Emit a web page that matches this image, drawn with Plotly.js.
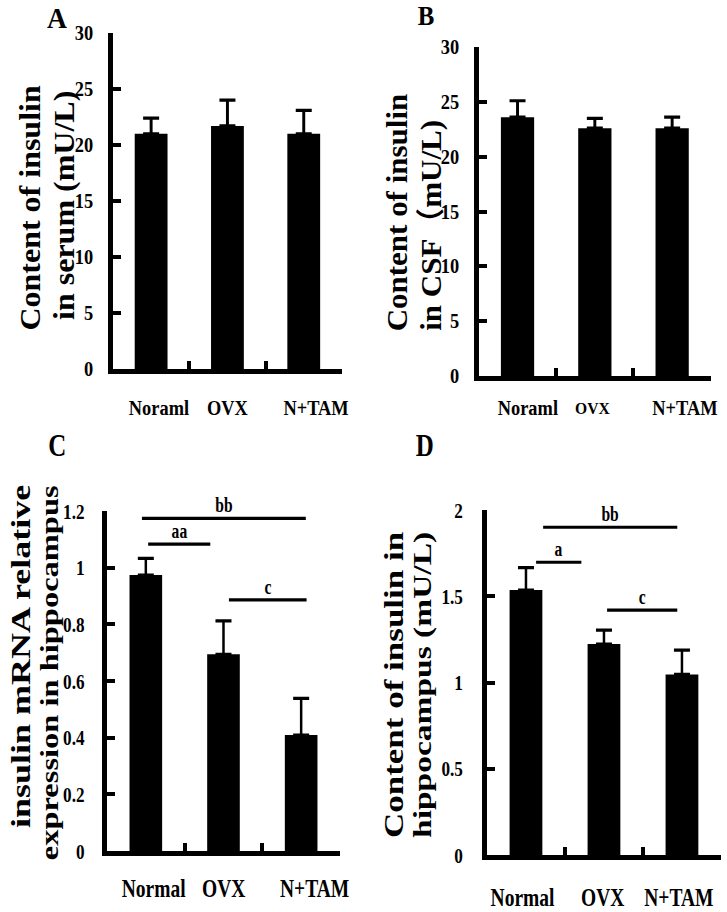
<!DOCTYPE html>
<html>
<head>
<meta charset="utf-8">
<script src="https://cdn.plot.ly/plotly-3.0.1.min.js"></script>
<style>
  html, body { margin: 0; padding: 0; background: #ffffff; width: 727px; height: 912px; overflow: hidden; position: relative; }
  #top, #bottom { position: absolute; left: 0; transform-origin: 0 0; }
  #top { top: 0; }
  #bottom { top: 420px; }
</style>
</head>
<body>
<div id="top"></div>
<div id="bottom"></div>
<script>
// ---------------- data ----------------
const categoriesTop = ['Noraml', 'OVX', 'N+TAM'];
const categoriesBottom = ['Normal', 'OVX', 'N+TAM'];

const serumInsulin = [21.0, 21.7, 21.0];
const serumErr = [1.4, 2.3, 2.1];

const csfInsulin = [23.6, 22.6, 22.6];
const csfErr = [1.5, 0.9, 1.0];

const mrnaExpr = [0.974, 0.694, 0.409];
const mrnaErr = [0.059, 0.118, 0.130];

const hippoInsulin = [1.536, 1.223, 1.047];
const hippoErr = [0.130, 0.081, 0.141];

const yTicksSerum = [0, 5, 10, 15, 20, 25, 30];
const yTicksCsf = [0, 5, 10, 15, 20, 25, 30];
const yTicksMrna = [0, 0.2, 0.4, 0.6, 0.8, 1, 1.2];
const yTickTextMrna = ['0', '0.2', '0.4', '0.6', '0.8', '1', '1.2'];
const yTicksHippo = [0, 0.5, 1, 1.5, 2];
const yTickTextHippo = ['0', '0.5', '1', '1.5', '2'];

// significance brackets (category index units)
const sigCLabels = ['bb', 'aa', 'c'];
const sigCFrom = [-0.05, 0.03, 1.07];
const sigCTo = [2.06, 0.83, 2.07];
const sigCLevel = [1.174, 1.083, 0.886];

const sigDLabels = ['bb', 'a', 'c'];
const sigDFrom = [0.22, 0.13, 1.04];
const sigDTo = [1.94, 0.71, 1.94];
const sigDLevel = [1.90, 1.697, 1.42];

// ---------------- helpers ----------------
const FONT = '"Liberation Serif", "Times New Roman", "Noto Sans CJK SC", serif';
const sTop = 0.92, sBot = 0.78;
const W = 727;

function bar(x, y, err, s, xa, ya) {
  return {
    type: 'bar', x: x, y: y, xaxis: xa, yaxis: ya,
    marker: { color: '#000000', line: { width: 0 } },
    error_y: { type: 'data', array: err, symmetric: false, arrayminus: err.map(() => 0),
               color: '#000000', thickness: 3.2, width: 8 / s },
    hoverinfo: 'skip', showlegend: false
  };
}

function xAxis(domain, anchor, s, lw) {
  return {
    domain: domain, anchor: anchor, type: 'category', range: [-0.5, 2.5],
    showline: true, linecolor: '#000', linewidth: lw,
    ticks: 'inside', tickson: 'boundaries', ticklen: 8, tickwidth: 4 / s, tickcolor: '#000',
    showticklabels: false, showgrid: false, zeroline: false, fixedrange: true
  };
}

function yAxis(domain, anchor, range, tickvals, ticktext, s, fsize, standoff) {
  return {
    domain: domain, anchor: anchor, range: range,
    tickmode: 'array', tickvals: tickvals, ticktext: ticktext,
    showline: true, linecolor: '#000', linewidth: 5 / s,
    ticks: 'inside', ticklen: 8 / s, tickwidth: 4, tickcolor: '#000',
    tickfont: { family: FONT, size: fsize, color: '#000', weight: 'bold' },
    ticklabelstandoff: standoff,
    showgrid: false, zeroline: false, fixedrange: true
  };
}

function txt(text, x, y, size, opts) {
  return Object.assign({
    text: text, x: x, y: y, xref: 'paper', yref: 'paper', showarrow: false,
    xanchor: 'center', yanchor: 'middle',
    font: { family: FONT, size: size, color: '#000', weight: 'bold' }
  }, opts || {});
}

function catLabels(cats, xref, offsets, y, sizes) {
  return cats.map((c, i) => ({
    text: c, x: i + offsets[i], y: y, xref: xref, yref: 'paper', showarrow: false,
    xanchor: 'center', yanchor: 'middle',
    font: { family: FONT, size: sizes[i], color: '#000', weight: 'bold' }
  }));
}

function sigShapes(from, to, level, xref, yref) {
  return from.map((f, i) => ({
    type: 'line', xref: xref, yref: yref, x0: f, x1: to[i], y0: level[i], y1: level[i],
    line: { color: '#000', width: 3.2 }
  }));
}

function sigTexts(labels, from, to, level, xref, yref, size) {
  return labels.map((l, i) => ({
    text: l, x: (from[i] + to[i]) / 2, y: level[i], xref: xref, yref: yref,
    showarrow: false, xanchor: 'center', yanchor: 'bottom', yshift: 0,
    font: { family: FONT, size: size, color: '#000', weight: 'bold' }
  }));
}

// ---------------- top row (A, B) ----------------
const Ht = 420;
const topTraces = [
  bar(categoriesTop, serumInsulin, serumErr, sTop, 'x', 'y'),
  bar(categoriesTop, csfInsulin, csfErr, sTop, 'x2', 'y2')
];
const topLayout = {
  width: W / sTop, height: Ht,
  margin: { l: 0, r: 0, t: 0, b: 0 },
  paper_bgcolor: 'rgba(0,0,0,0)', plot_bgcolor: 'rgba(0,0,0,0)',
  bargap: 0.57,
  xaxis: xAxis([113 / W, 342 / W], 'y', sTop, 4.5),
  yaxis: yAxis([(Ht - 369) / Ht, (Ht - 33) / Ht], 'x', [0, 30], yTicksSerum, yTicksSerum.map(String), sTop, 20, 12),
  xaxis2: xAxis([479 / W, 711 / W], 'y2', sTop, 4.5),
  yaxis2: yAxis([(Ht - 376) / Ht, (Ht - 47) / Ht], 'x2', [0, 30], yTicksCsf, yTicksCsf.map(String), sTop, 20, 12),
  annotations: [
    txt('A', 57 / W, (Ht - 18) / Ht, 30),
    txt('B', 426 / W, (Ht - 16) / Ht, 27),
    txt('Content of insulin', 30 / W, (Ht - 333) / Ht, 32, { textangle: -90, yanchor: 'bottom' }),
    txt('in serum (mU/L)', 63 / W, (Ht - 322) / Ht, 32, { textangle: -90, yanchor: 'bottom' }),
    txt('Content of insulin', 397 / W, (Ht - 333) / Ht, 31, { textangle: -90, yanchor: 'bottom' }),
    txt('in CSF（mU/L)', 431 / W, (Ht - 333) / Ht, 31, { textangle: -90, yanchor: 'bottom' })
  ].concat(
    catLabels(categoriesTop, 'x', [0.1, 0, 0.16], (Ht - 408) / Ht, [20, 20, 20]),
    catLabels(categoriesTop, 'x2', [0.14, -0.03, 0.17], (Ht - 408) / Ht, [20, 17, 20])
  )
};

// ---------------- bottom row (C, D) ----------------
const Hb = 492, off = 420;
const botTraces = [
  bar(categoriesBottom, mrnaExpr, mrnaErr, sBot, 'x', 'y'),
  bar(categoriesBottom, hippoInsulin, hippoErr, sBot, 'x2', 'y2')
];
const botLayout = {
  width: W / sBot, height: Hb,
  margin: { l: 0, r: 0, t: 0, b: 0 },
  paper_bgcolor: 'rgba(0,0,0,0)', plot_bgcolor: 'rgba(0,0,0,0)',
  bargap: 0.58,
  xaxis: xAxis([107 / W, 340 / W], 'y', sBot, 5),
  yaxis: yAxis([(Hb - (851 - off)) / Hb, (Hb - (511 - off)) / Hb], 'x', [0, 1.2], yTicksMrna, yTickTextMrna, sBot, 22, 18),
  xaxis2: xAxis([487 / W, 721 / W], 'y2', sBot, 5),
  yaxis2: yAxis([(Hb - (855 - off)) / Hb, (Hb - (510 - off)) / Hb], 'x2', [0, 2], yTicksHippo, yTickTextHippo, sBot, 22, 20),
  shapes: sigShapes(sigCFrom, sigCTo, sigCLevel, 'x', 'y')
    .concat(sigShapes(sigDFrom, sigDTo, sigDLevel, 'x2', 'y2')),
  annotations: [
    txt('C', 57 / W, (Hb - (445 - off)) / Hb, 32),
    txt('D', 425 / W, (Hb - (445 - off)) / Hb, 32),
    txt('insulin mRNA relative', 20 / W, (Hb - (483 - off)) / Hb, 36, { textangle: -90, yanchor: 'top' }),
    txt('expression in hippocampus', 49 / W, (Hb - (483 - off)) / Hb, 32.5, { textangle: -90, yanchor: 'top' }),
    txt('Content of insulin in', 394 / W, (Hb - (530 - off)) / Hb, 35, { textangle: -90, yanchor: 'top' }),
    txt('hippocampus (mU/L)', 422 / W, (Hb - (530 - off)) / Hb, 33.5, { textangle: -90, yanchor: 'top' })
  ].concat(
    catLabels(categoriesBottom, 'x', [0.1, 0, 0.17], (Hb - (888 - off)) / Hb, [25, 25, 25]),
    catLabels(categoriesBottom, 'x2', [-0.04, -0.01, -0.04], (Hb - (897 - off)) / Hb, [25, 25, 25]),
    sigTexts(sigCLabels, sigCFrom, sigCTo, sigCLevel, 'x', 'y', 20),
    sigTexts(sigDLabels, sigDFrom, sigDTo, sigDLevel, 'x2', 'y2', 20)
  )
};

const cfg = { displayModeBar: false, staticPlot: true };
document.getElementById('top').style.transform = 'scaleX(' + sTop + ')';
document.getElementById('bottom').style.transform = 'scaleX(' + sBot + ')';
Plotly.newPlot('top', topTraces, topLayout, cfg);
Plotly.newPlot('bottom', botTraces, botLayout, cfg);
</script>
</body>
</html>
